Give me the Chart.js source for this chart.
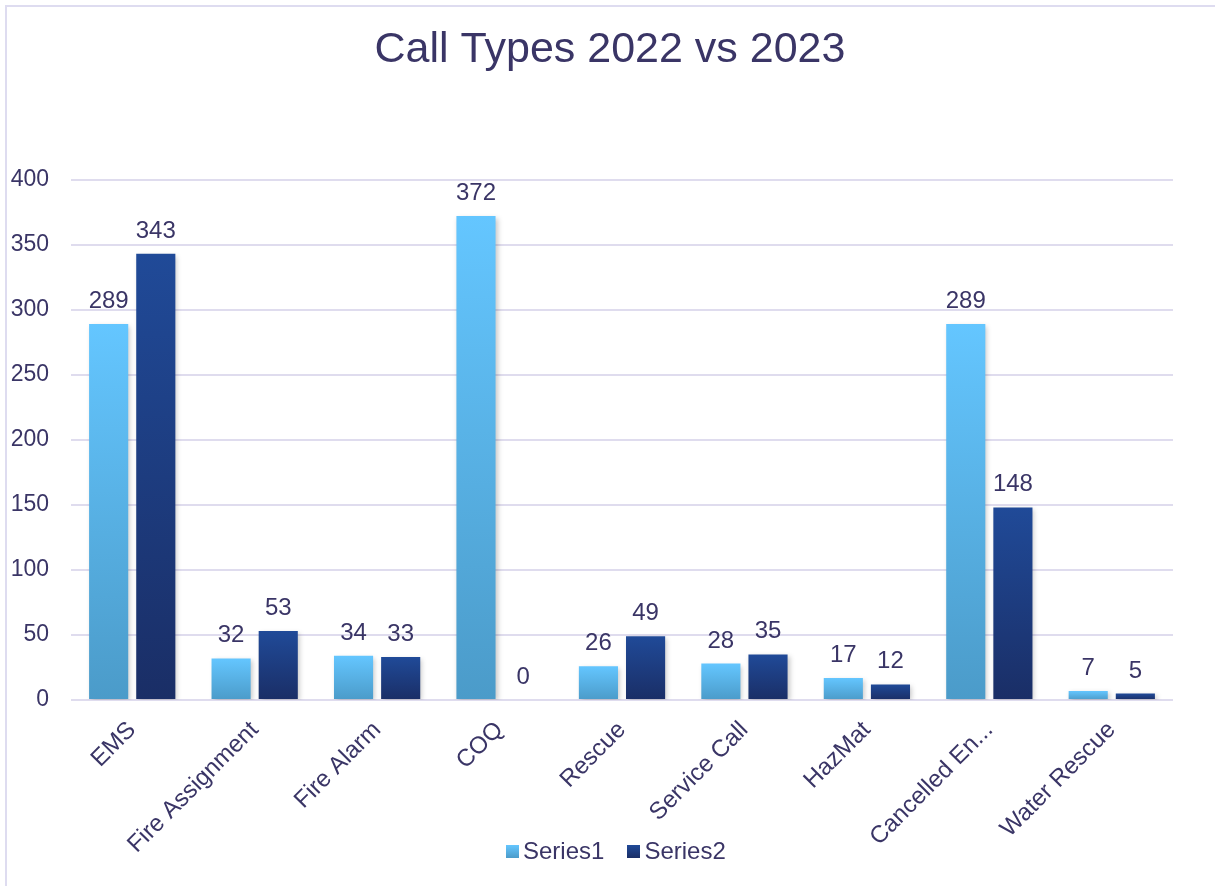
<!DOCTYPE html>
<html>
<head>
<meta charset="utf-8">
<script src="https://cdn.jsdelivr.net/npm/chart.js@4/dist/chart.umd.min.js"></script>
<style>
  html, body { margin: 0; padding: 0; background: #fff; }
  #wrap { position: relative; width: 1215px; height: 886px; overflow: hidden; }
  #frame { position: absolute; left: 5px; top: 5px; width: 1300px; height: 1000px;
           border-left: 2px solid #dedcf0; border-top: 2px solid #dedcf0; }
  canvas { position: absolute; left: 0; top: 0; }
  #leyenda { position: absolute; left: 506px; top: 836px; height: 30px; display: flex; align-items: center;
             font: 24px 'Liberation Sans', Arial, sans-serif; color: #3a3566; }
  #leyenda span.caja { display: inline-block; width: 13px; height: 13px; margin-right: 4px; }
  #leyenda span.item { display: flex; align-items: center; margin-right: 23px; }
</style>
</head>
<body>
<div id="wrap">
  <div id="frame"></div>
  <canvas id="myChart" width="1215" height="886"></canvas>
  <div id="leyenda"></div>
</div>
<script>
const categorias = ["EMS", "Fire Assignment", "Fire Alarm", "COQ", "Rescue", "Service Call", "HazMat", "Cancelled En...", "Water Rescue"];
const serie1 = [289, 32, 34, 372, 26, 28, 17, 289, 7];
const serie2 = [343, 53, 33, 0, 49, 35, 12, 148, 5];
const nombresSeries = ["Series1", "Series2"];
const yTicks = [0, 50, 100, 150, 200, 250, 300, 350, 400];

const textColor = "#3a3566";
const fuente = "'Liberation Sans', Arial, sans-serif";
const colores = [
  ["#64c6ff", "#4b9bc9"],
  ["#204a98", "#1a2e66"],
];

// degradado vertical por barra, desde su tope hasta la base
const degradado = (arriba, abajo) => (c) => {
  const chart = c.chart;
  const y = chart.scales.y;
  if (!y || !chart.chartArea || c.parsed == null) return arriba;
  const top = y.getPixelForValue(c.parsed.y);
  const base = y.getPixelForValue(0);
  if (Math.abs(base - top) < 1) return abajo;
  const g = chart.ctx.createLinearGradient(0, top, 0, base);
  g.addColorStop(0, arriba);
  g.addColorStop(1, abajo);
  return g;
};

const etiquetas = {
  id: "etiquetas",
  afterLayout(chart) {
    // centrar el titulo sobre todo el lienzo
    chart.titleBlock.left = 5;
    chart.titleBlock.right = chart.width;
  },
  beforeDatasetsDraw(chart) {
    const ctx = chart.ctx;
    ctx.save();
    ctx.shadowColor = "rgba(0,0,0,0.22)";
    ctx.shadowBlur = 5;
    ctx.shadowOffsetX = 2;
    ctx.shadowOffsetY = 2;
  },
  afterDatasetsDraw(chart) {
    const ctx = chart.ctx;
    ctx.restore();
    ctx.save();
    ctx.font = "24px " + fuente;
    ctx.fillStyle = textColor;
    ctx.textAlign = "center";
    ctx.textBaseline = "alphabetic";
    chart.data.datasets.forEach((ds, i) => {
      const meta = chart.getDatasetMeta(i);
      meta.data.forEach((bar, j) => {
        ctx.fillText(String(ds.data[j]), bar.x, bar.y - 16);
      });
    });
    ctx.restore();
  },
};

const ctx = document.getElementById("myChart");

const grafico = new Chart(ctx, {
  type: "bar",
  data: {
    labels: categorias,
    datasets: [
      {
        label: nombresSeries[0],
        data: serie1,
        backgroundColor: degradado(colores[0][0], colores[0][1]),
        categoryPercentage: 0.77,
        barPercentage: 0.83,
      },
      {
        label: nombresSeries[1],
        data: serie2,
        backgroundColor: degradado(colores[1][0], colores[1][1]),
        categoryPercentage: 0.77,
        barPercentage: 0.83,
      },
    ],
  },
  options: {
    responsive: false,
    animation: false,
    layout: { padding: { left: 11, right: 42, top: 0, bottom: 11 } },
    plugins: {
      title: {
        display: true,
        text: "Call Types 2022 vs 2023",
        color: textColor,
        font: { family: fuente, size: 43, weight: "normal" },
        padding: { top: 24, bottom: 104 },
      },
      legend: { display: false },
      tooltip: { enabled: false },
    },
    scales: {
      x: {
        grid: { display: false, drawTicks: false },
        border: { display: false },
        ticks: {
          color: textColor,
          font: { family: fuente, size: 24 },
          maxRotation: 45,
          minRotation: 45,
          padding: 16,
        },
      },
      y: {
        min: 0,
        max: 400,
        afterBuildTicks: (axis) => {
          axis.ticks = yTicks.map((v) => ({ value: v }));
        },
        afterFit: (axis) => {
          axis.width = 60;
        },
        grid: { color: "#dfdcee", lineWidth: 2, drawTicks: false },
        border: { display: false },
        ticks: {
          color: textColor,
          font: { family: fuente, size: 23 },
          padding: 22,
        },
      },
    },
  },
  plugins: [etiquetas],
});

// leyenda en HTML, con los nombres de las series
const leyenda = document.getElementById("leyenda");
grafico.data.datasets.forEach((ds, i) => {
  const item = document.createElement("span");
  item.className = "item";
  const caja = document.createElement("span");
  caja.className = "caja";
  caja.style.background = `linear-gradient(${colores[i][0]}, ${colores[i][1]})`;
  item.appendChild(caja);
  item.appendChild(document.createTextNode(ds.label));
  leyenda.appendChild(item);
});
</script>
</body>
</html>
